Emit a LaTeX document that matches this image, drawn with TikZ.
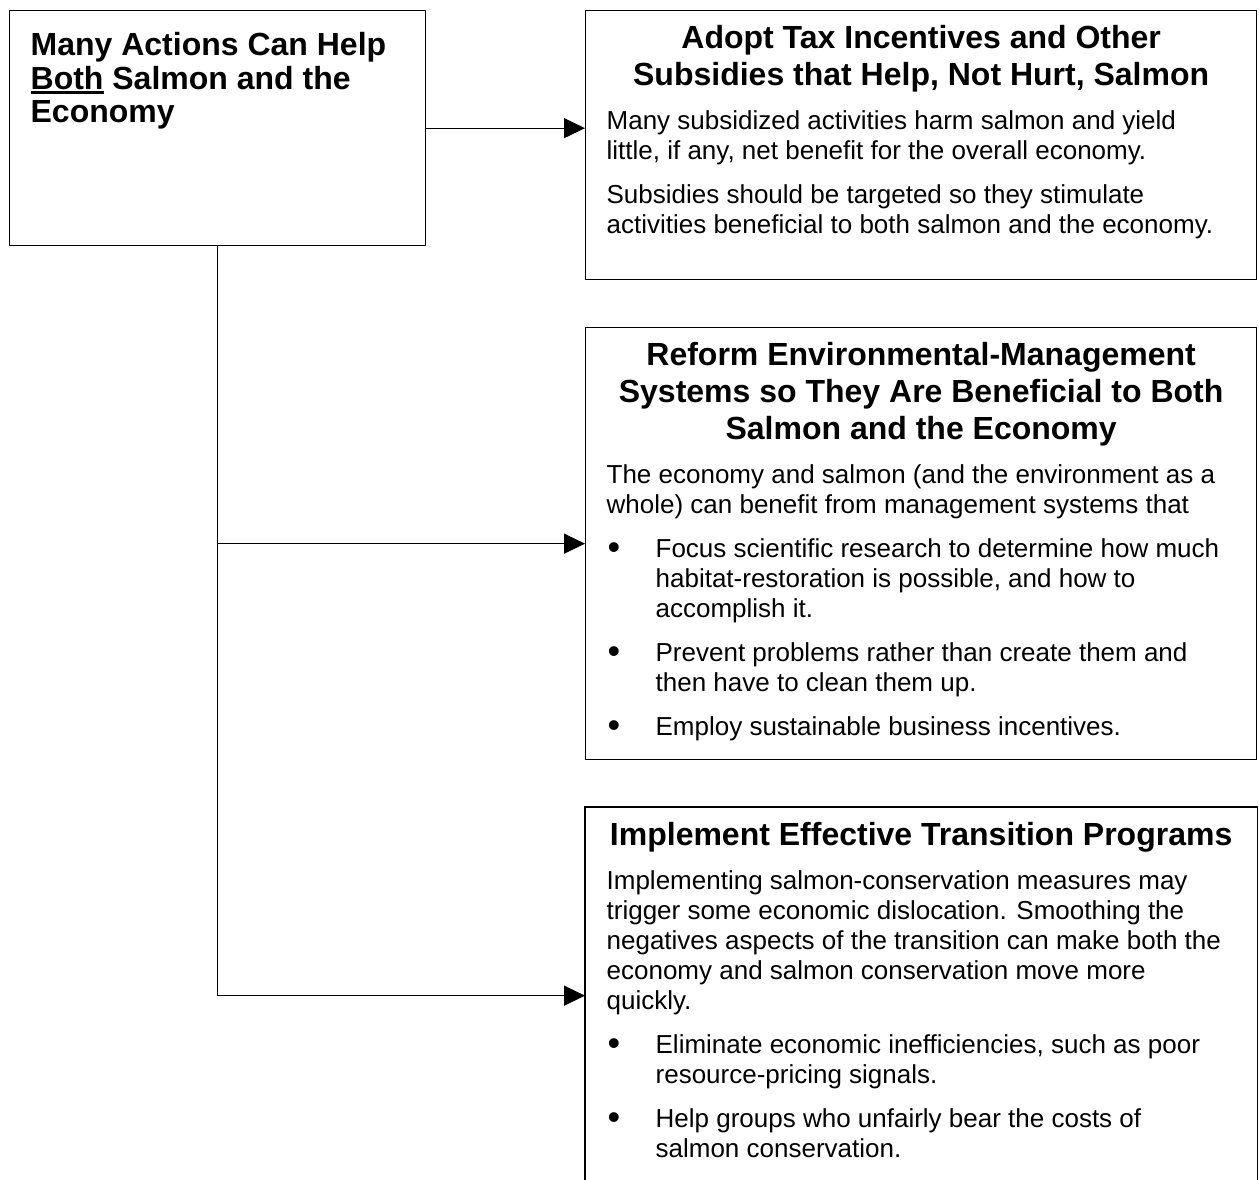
\documentclass[tikz,border=0pt]{standalone}
\usepackage{fontspec}
\setmainfont{Liberation Sans}
\usetikzlibrary{arrows.meta}
\tikzset{>={Triangle[length=21pt,width=20pt]}}
\tikzset{
    panel/.style={draw,line width=1.3pt,anchor=north west,inner xsep=21pt,inner ysep=15pt},
    openpanel/.style={panel,draw=none},
    link/.style={line width=1.3pt,->},
}
\newcommand{\thickul}[1]{\leavevmode\setbox0=\hbox{#1}\rlap{\rule[-4.5pt]{\wd0}{2.5pt}}\box0\relax}
\newcommand{\headfont}{\fontsize{32}{37}\selectfont\bfseries}
\newcommand{\bodyfont}{\fontsize{26}{30}\selectfont}
\newcommand{\panelbody}[3]{\parbox[c][#2][t]{#1}{\bodyfont\setlength{\parskip}{14pt}\raggedright #3}}
\newcommand{\headline}[1]{{\centering\headfont #1\par}}
\newcommand{\bitem}[1]{\par\hangindent=49pt\hangafter=1\noindent
    \makebox[49pt][l]{\hspace{1pt}\raisebox{-1.5pt}{\fontsize{36}{30}\selectfont\textbullet}}{\let\\\newline #1}}

\begin{document}
\begin{tikzpicture}[x=1pt,y=-1pt]
		\useasboundingbox (0,0) rectangle (1259,1179);

		\node[panel,inner ysep=22pt] (actions) at (9,10) {\panelbody{374pt}{191pt}{\headfont\fontsize{32}{33.5}\selectfont Many Actions Can Help\\ \thickul{Both} Salmon and the\\ Economy\par}};

		\node[panel] (tax) at (585,10) {\panelbody{629pt}{239pt}{%
			\headline{Adopt Tax Incentives and Other\\ Subsidies that Help, Not Hurt, Salmon}
			Many subsidized activities harm salmon and yield\\ little, if any, net benefit for the overall economy.\par
			Subsidies should be targeted so they stimulate\\ activities beneficial to both salmon and the economy.\par}};

		\node[panel] (reform) at (585,327) {\panelbody{629pt}{402pt}{%
			\headline{Reform Environmental-Management\\ Systems so They Are Beneficial to Both\\ Salmon and the Economy}
			The economy and salmon (and the environment as a\\ whole) can benefit from management systems that\par
			\bitem{Focus scientific research to determine how much\\ habitat-restoration is possible, and how to\\ accomplish it.}
			\bitem{Prevent problems rather than create them and\\ then have to clean them up.}
			\bitem{Employ sustainable business incentives.}\par}};

		\node[openpanel] (trans) at (585,807) {\panelbody{629pt}{346pt}{%
			\headline{Implement Effective Transition Programs}
			Implementing salmon-conservation measures may\\ trigger some economic dislocation. Smoothing the\\ negatives aspects of the transition can make both the\\ economy and salmon conservation move more\\ quickly.\par
			\bitem{Eliminate economic inefficiencies, such as poor\\ resource-pricing signals.}
			\bitem{Help groups who unfairly bear the costs of\\ salmon conservation.}\par}};
		\draw[line width=1.3pt] (trans.south west) |- (trans.north east) -- (trans.south east);

		\draw[link] (actions.east) -- (actions.east -| tax.west);
		\draw[link] (actions.south) |- (trans.west);
		\draw[link] (actions.south |- reform.west) -- (reform.west);
	\end{tikzpicture}
\end{document}
